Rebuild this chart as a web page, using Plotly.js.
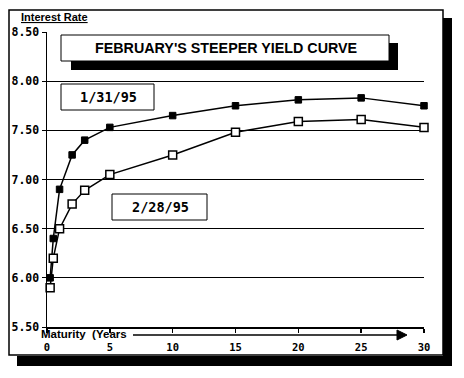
<!DOCTYPE html>
<html>
<head>
<meta charset="utf-8">
<script src="https://cdn.plot.ly/plotly-3.0.1.min.js"></script>
<style>
html,body{margin:0;padding:0;background:#fff;}
#chart{width:464px;height:378px;}
</style>
</head>
<body>
<div id="chart"></div>
<script>
// Data
var maturities = [0.25, 0.5, 1, 2, 3, 5, 10, 15, 20, 25, 30];
var rates_1_31_95 = [6.00, 6.40, 6.90, 7.25, 7.40, 7.53, 7.65, 7.75, 7.81, 7.83, 7.75];
var rates_2_28_95 = [5.90, 6.20, 6.50, 6.75, 6.89, 7.05, 7.25, 7.48, 7.59, 7.61, 7.53];
var xTicks = [0, 5, 10, 15, 20, 25, 30];
var yTicks = [5.5, 6.0, 6.5, 7.0, 7.5, 8.0, 8.5];
var yTickLabels = ["5.50", "6.00", "6.50", "7.00", "7.50", "8.00", "8.50"];
var titleText = "FEBRUARY'S STEEPER YIELD CURVE";
var label1 = "1/31/95";
var label2 = "2/28/95";

// Layout geometry (pixels)
var W = 464, H = 378;
var mL = 47, mR = 40, mT = 32, mB = 51;
var pw = W - mL - mR, ph = H - mT - mB;
function px(x){ return (x - mL) / pw; }
function py(y){ return (H - mB - y) / ph; }
function rect(x0, y0, x1, y1, opts){
  var s = {type:'rect', xref:'paper', yref:'paper',
    x0:px(x0), x1:px(x1), y0:py(y1), y1:py(y0),
    line:{color:'black', width:opts.lw === undefined ? 1 : opts.lw},
    fillcolor:opts.fill || 'rgba(0,0,0,0)', layer:opts.layer || 'above'};
  if (opts.lw === 0) s.line = {width:0};
  return s;
}

var font = "'Liberation Sans', Arial, sans-serif";
var mono = "'DejaVu Sans Mono', 'Liberation Mono', monospace";

var traces = [
  {x:maturities, y:rates_1_31_95, mode:'lines+markers', type:'scatter',
   line:{color:'black', width:1.5},
   marker:{symbol:'square', size:6.5, color:'black', line:{color:'black', width:1}},
   cliponaxis:false, showlegend:false},
  {x:maturities, y:rates_2_28_95, mode:'lines+markers', type:'scatter',
   line:{color:'black', width:1.5},
   marker:{symbol:'square', size:8, color:'white', line:{color:'black', width:1.5}},
   cliponaxis:false, showlegend:false}
];

var shapes = [
  // outer frame shadows
  rect(443, 18, 452, 366, {lw:0, fill:'black', layer:'below'}),
  rect(17, 356, 452, 366, {lw:0, fill:'black', layer:'below'}),
  // outer frame
  rect(9, 10, 443, 355, {lw:1.5, fill:'white', layer:'below'}),
  // title box shadow and box
  rect(71, 43, 398, 70, {lw:0, fill:'black'}),
  rect(61, 35, 389, 61, {lw:1, fill:'white'}),
  // date label boxes
  rect(61, 84, 154, 110, {lw:1, fill:'white'}),
  rect(112, 194, 207, 220, {lw:1, fill:'white'}),
  // maturity arrow
  {type:'line', xref:'paper', yref:'paper', x0:px(133), x1:px(398), y0:py(335), y1:py(335),
   line:{color:'black', width:1.5}},
  {type:'path', xref:'paper', yref:'paper',
   path:'M '+px(397)+' '+py(330)+' L '+px(407)+' '+py(335)+' L '+px(397)+' '+py(340)+' Z',
   fillcolor:'black', line:{color:'black', width:1}}
];

var annotations = [
  {text:'<b>'+titleText+'</b>', xref:'paper', yref:'paper', x:px(226), y:py(48),
   showarrow:false, font:{family:font, size:14.3, color:'black'}, xanchor:'center', yanchor:'middle'},
  {text:'<b>'+label1+'</b>', xref:'paper', yref:'paper', x:px(108), y:py(97),
   showarrow:false, font:{family:mono, size:13.5, color:'black'}, xanchor:'center', yanchor:'middle'},
  {text:'<b>'+label2+'</b>', xref:'paper', yref:'paper', x:px(160), y:py(207),
   showarrow:false, font:{family:mono, size:13.5, color:'black'}, xanchor:'center', yanchor:'middle'},
  {text:'<b><u>Interest Rate</u></b>', xref:'paper', yref:'paper', x:px(19), y:py(17),
   showarrow:false, font:{family:font, size:11, color:'black'}, xanchor:'left', yanchor:'middle'},
  {text:'<b>Maturity  (Years</b>', xref:'paper', yref:'paper', x:px(39), y:py(334),
   showarrow:false, font:{family:font, size:11.5, color:'black'}, xanchor:'left', yanchor:'middle'}
];

var layout = {
  width:W, height:H,
  margin:{l:mL, r:mR, t:mT, b:mB, pad:0},
  paper_bgcolor:'white', plot_bgcolor:'rgba(0,0,0,0)',
  showlegend:false,
  xaxis:{range:[0,30], tickvals:xTicks, ticktext:xTicks.map(String),
    showgrid:false, zeroline:false, showline:true, linecolor:'black', linewidth:1.5,
    ticks:'outside', ticklen:4, tickwidth:1.5, tickcolor:'black',
    ticklabelstandoff:6,
    tickfont:{family:mono, size:10.5, color:'black', weight:'bold'}, fixedrange:true},
  yaxis:{range:[5.5,8.5], tickvals:yTicks, ticktext:yTickLabels,
    showgrid:true, gridcolor:'black', gridwidth:1,
    zeroline:false, showline:true, linecolor:'black', linewidth:1.5,
    ticks:'outside', ticklen:4, tickwidth:1, tickcolor:'black',
    ticklabelstandoff:0,
    tickfont:{family:mono, size:11.5, color:'black', weight:'bold'}, fixedrange:true},
  shapes:shapes,
  annotations:annotations
};

Plotly.newPlot('chart', traces, layout, {displayModeBar:false, staticPlot:true});
</script>
</body>
</html>
